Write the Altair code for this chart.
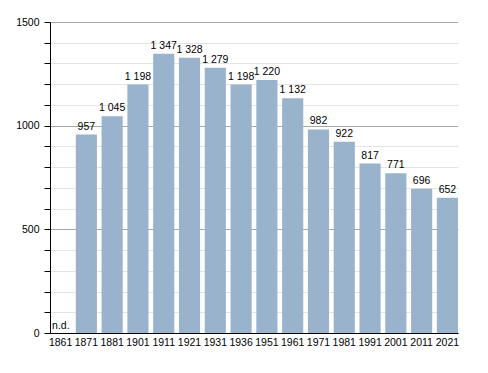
import altair as alt
import pandas as pd

years = ["1861", "1871", "1881", "1901", "1911", "1921", "1931", "1936", "1951",
         "1961", "1971", "1981", "1991", "2001", "2011", "2021"]
values = [None, 957, 1045, 1198, 1347, 1328, 1279, 1198, 1220, 1132, 982, 922, 817, 771, 696, 652]
labels = ["", "957", "1 045", "1 198", "1 347", "1 328", "1 279", "1 198", "1 220",
          "1 132", "982", "922", "817", "771", "696", "652"]

df = pd.DataFrame({"year": years, "value": values, "label": labels})
nd = pd.DataFrame({"year": ["1861"], "value": [0], "label": ["n.d."]})

FONT = "Liberation Sans"
FS = 10.5
x = alt.X("year:N", sort=years, title=None,
          scale=alt.Scale(paddingInner=0.18, paddingOuter=0),
          axis=alt.Axis(labelAngle=0, ticks=False, domainColor="black", labelFont=FONT,
                        labelFontSize=FS, labelColor="black", labelPadding=4))
y = alt.Y("value:Q", title=None,
          scale=alt.Scale(domain=[0, 1500], nice=False),
          axis=alt.Axis(values=list(range(0, 1600, 100)), format="d",
                        labelExpr="datum.value % 500 === 0 ? datum.label : ''",
                        labelFont=FONT, labelFontSize=FS, labelColor="black",
                        tickColor="black", tickSize=6, domainColor="black",
                        gridColor={"condition": {"test": "datum.value % 500 === 0", "value": "#a8a8a8"},
                                   "value": "#e4e4e4"},
                        labelPadding=5))

bars = alt.Chart(df).mark_bar(color="#9ab3cc").encode(x=x, y=y)
text = alt.Chart(df).mark_text(dy=-5, baseline="alphabetic", font=FONT, fontSize=FS,
                               color="black").encode(x=x, y=y, text="label:N")
ndtext = alt.Chart(nd).mark_text(align="left", dx=-8.5, dy=-4, baseline="alphabetic", font=FONT,
                                 fontSize=FS, color="black").encode(x=x, y=y, text="label:N")

chart = alt.layer(bars, text, ndtext).properties(
    width=408, height=311,
    autosize=alt.AutoSizeParams(type="none"),
    padding={"left": 42, "top": 14, "right": 22, "bottom": 20},
).configure_view(stroke=None).configure_axisX(grid=False)

chart.save("out.html", embed_options={"renderer": "svg", "actions": False})
